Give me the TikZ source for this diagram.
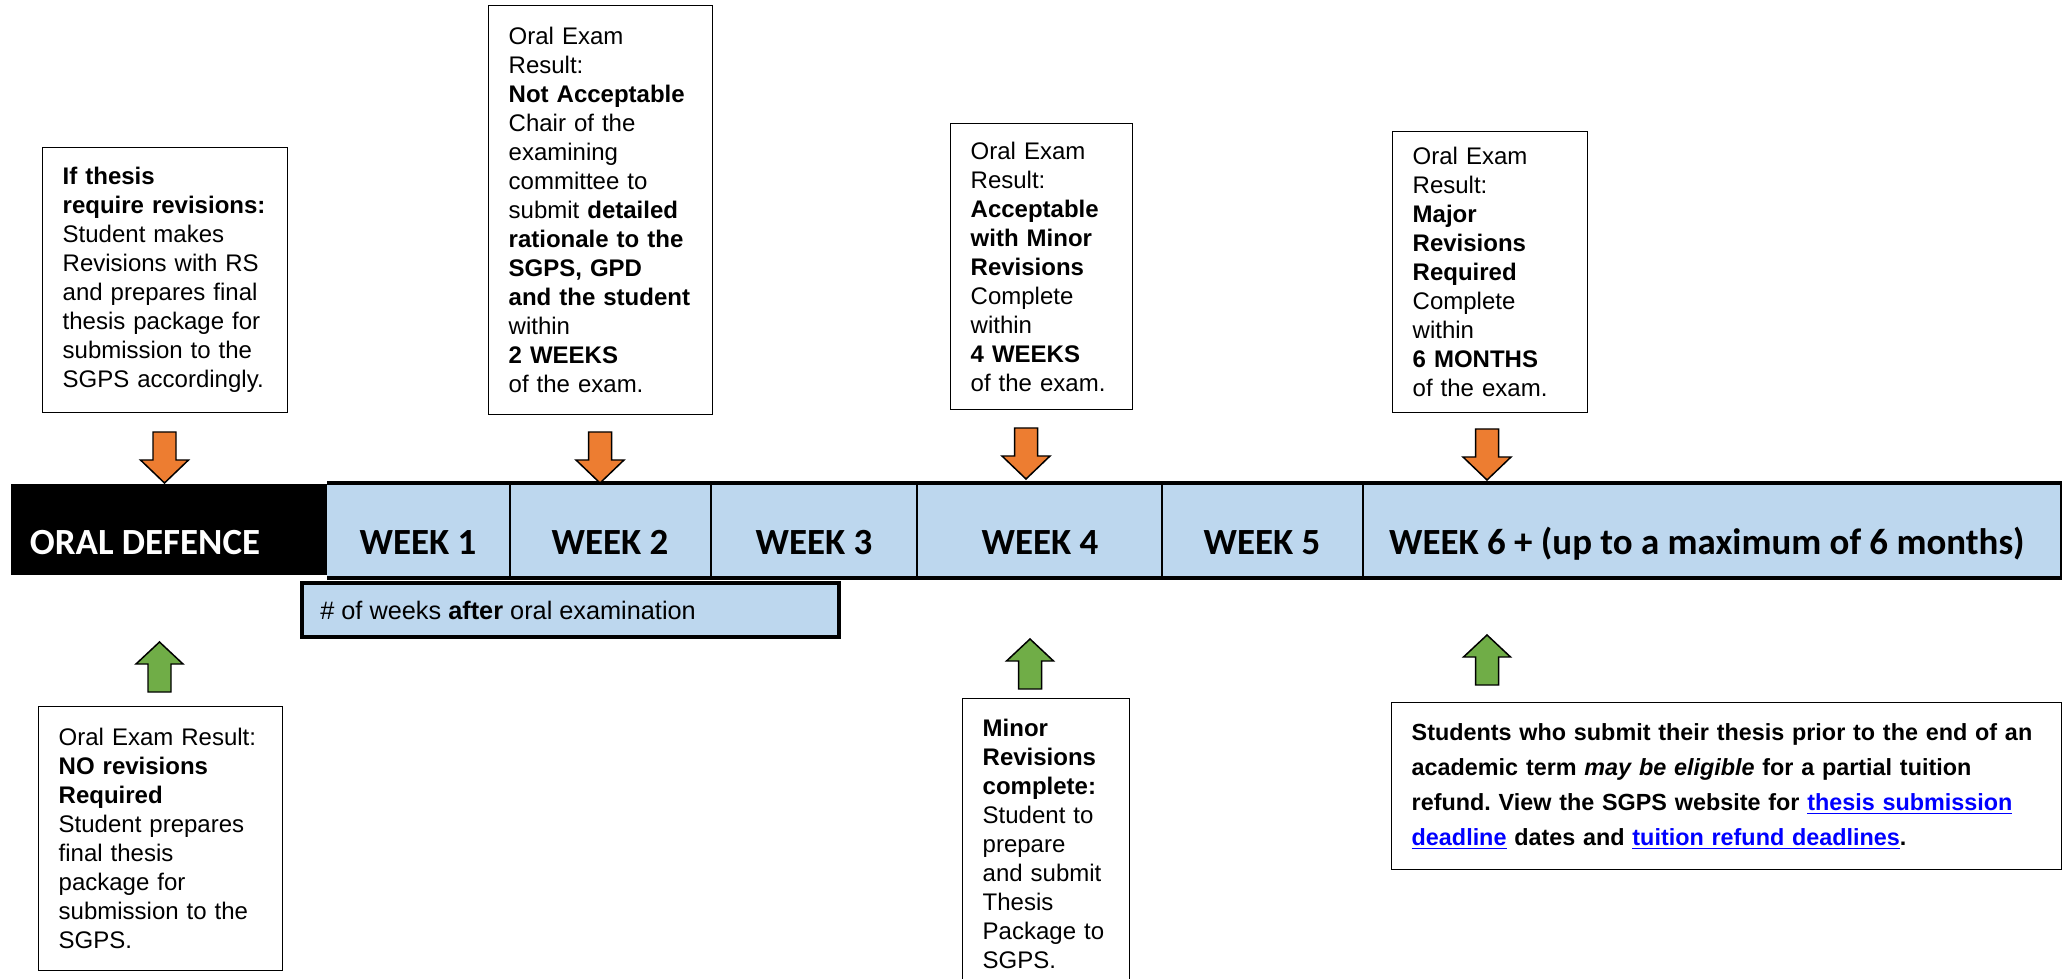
\documentclass[tikz,border=0pt]{standalone}
\usepackage{fontspec}
\setmainfont{Liberation Sans}
\newfontfamily\calibri{Carlito}
\usetikzlibrary{positioning}
\definecolor{bandblue}{HTML}{BDD7EE}
\definecolor{pointerorange}{HTML}{ED7D31}
\definecolor{pointergreen}{HTML}{70AD47}
\definecolor{linkblue}{HTML}{0000FF}
\newcommand{\weblink}[1]{{\color{linkblue}\underline{#1}}}
\frenchspacing

\begin{document}
\begin{tikzpicture}[x=0.02cm,y=-0.02cm,
  note/.style={draw=black,line width=0.8pt,fill=white,anchor=north west,align=left,inner xsep=0.4cm,inner ysep=0pt,font=\fontsize{13.66}{16.5}\selectfont},
  weekcell/.style={anchor=base,font=\calibri\bfseries\fontsize{21}{25}\selectfont},
  pics/down pointer/.style={code={\filldraw[draw=black,line width=0.85pt,fill=#1] (-11.5,-51) -- (11.5,-51) -- (11.5,-23) -- (24,-23) -- (0,0) -- (-24,-23) -- (-11.5,-23) -- cycle;}},
  pics/up pointer/.style={code={\filldraw[draw=black,line width=0.85pt,fill=#1] (-11.5,50) -- (11.5,50) -- (11.5,22) -- (23.5,22) -- (0,0) -- (-23.5,22) -- (-11.5,22) -- cycle;}}]
\useasboundingbox (0,0) rectangle (2062,979);

% Timeline band
\fill[bandblue] (327,483) rectangle (2062,578);
\foreach \x in {510,711,917,1162,1363,2061}
  \draw[line width=0.8pt] (\x,483) -- (\x,578);
\draw[line width=1.8pt] (327,483) -- (2062,483);
\draw[line width=1.8pt] (327,578) -- (2062,578);

\fill[black] (11,484) rectangle (327,575);
\node[weekcell,text=white] (defence) at (145,555) {ORAL DEFENCE};
\node[weekcell] (week1) at (418,555) {WEEK 1};
\node[weekcell] (week2) at (610,555) {WEEK 2};
\node[weekcell] (week3) at (814,555) {WEEK 3};
\node[weekcell] (week4) at (1040,555) {WEEK 4};
\node[weekcell] (week5) at (1262,555) {WEEK 5};
\node[weekcell,anchor=base west] (week6) at (1383,555) {WEEK 6 + (up to a maximum of 6 months)};

% Weeks caption
\filldraw[draw=black,line width=2.3pt,fill=bandblue] (302,583) rectangle (839,637);
\node[anchor=west,inner sep=0pt,font=\fontsize{14.4}{17}\selectfont] (weeks) at (320,610) {\# of weeks \textbf{after} oral examination};

% Results above the timeline
\node[note,text width=4.1cm,minimum height=5.3cm] (revise) at (42,147)
  {\textbf{If thesis}\\ \textbf{require revisions:}\\ Student makes\\ Revisions with RS\\ and prepares final\\ thesis package for\\ submission to the\\ SGPS accordingly.};
\node[note,text width=3.68cm,minimum height=8.18cm] (notok) at (488,5)
  {Oral Exam\\ Result:\\ \textbf{Not Acceptable}\\ Chair of the\\ examining\\ committee to\\ submit \textbf{detailed}\\ \textbf{rationale to the}\\ \textbf{SGPS, GPD}\\ \textbf{and the student}\\ within\\ \textbf{2 WEEKS}\\ of the exam.};
\node[note,text width=2.84cm,minimum height=5.72cm] (minor) at (950,123)
  {Oral Exam\\ Result:\\ \textbf{Acceptable}\\ \textbf{with Minor}\\ \textbf{Revisions}\\ Complete\\ within\\ \textbf{4 WEEKS}\\ of the exam.};
\node[note,text width=3.1cm,minimum height=5.62cm] (major) at (1392,131)
  {Oral Exam\\ Result:\\ \textbf{Major}\\ \textbf{Revisions}\\ \textbf{Required}\\ Complete\\ within\\ \textbf{6 MONTHS}\\ of the exam.};

\pic (ptrA) at (164.5,483) {down pointer=pointerorange};
\pic (ptrB) at (600,483) {down pointer=pointerorange};
\pic (ptrC) at (1026,479) {down pointer=pointerorange};
\pic (ptrD) at (1487,480) {down pointer=pointerorange};

% Below the timeline
\pic (ptrE) at (159.5,642) {up pointer=pointergreen};
\pic (ptrF) at (1030,639) {up pointer=pointergreen};
\pic (ptrG) at (1487,635) {up pointer=pointergreen};

\node[note,text width=4.08cm,minimum height=5.28cm] (norev) at (38,706)
  {Oral Exam Result:\\ \textbf{NO revisions}\\ \textbf{Required}\\ Student prepares\\ final thesis\\ package for\\ submission to the\\ SGPS.};
\node[note,text width=2.54cm,minimum height=5.8cm] (minordone) at (962,698)
  {\textbf{Minor}\\ \textbf{Revisions}\\ \textbf{complete:}\\ Student to\\ prepare\\ and submit\\ Thesis\\ Package to\\ SGPS.};
\node[note,text width=12.6cm,minimum height=3.34cm,font=\bfseries\fontsize{13.3}{19.9}\selectfont] (refund) at (1391,702)
  {Students who submit their thesis prior to the end of an\\ academic term \textit{may be eligible} for a partial tuition\\ refund. View the SGPS website for \weblink{thesis submission}\\ \weblink{deadline} dates and \weblink{tuition refund deadlines}.};

\end{tikzpicture}
\end{document}
